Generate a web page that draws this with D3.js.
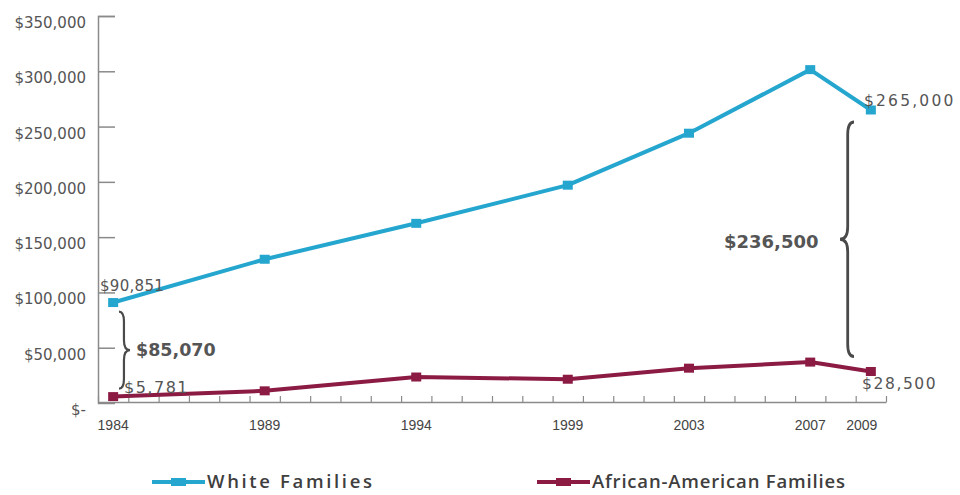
<!DOCTYPE html>
<html>
<head>
<meta charset="utf-8">
<script src="https://cdn.jsdelivr.net/npm/d3@7"></script>
<style>
  body { margin: 0; background: #fff; }
  svg { display: block; }
  .ylab { font-family: "DejaVu Sans", sans-serif; font-size: 15px; fill: #555; }
  .xlab { font-family: "Liberation Sans", sans-serif; font-size: 14px; fill: #444; }
  .note { font-family: "DejaVu Sans", sans-serif; fill: #555; }
  .legend { font-family: "Open Sans", sans-serif; font-size: 18.5px; font-weight: 600; fill: #3e3e3e; }
</style>
</head>
<body>
<div id="chart"></div>
<script>
const width = 960,
  height = 495;

// data
const years = [1984, 1989, 1994, 1999, 2003, 2007, 2009];
const white = [90851, 130000, 162500, 197000, 244000, 301500, 265000];
const black = [5781, 11000, 23500, 21500, 31500, 37000, 28500];
const yTicks = [0, 50000, 100000, 150000, 200000, 250000, 300000, 350000];
const seriesNames = ["White Families", "African-American Families"];
const gaps = [85070, 236500];

const blue = "#25a6cf",
  maroon = "#8c1b44",
  axisColor = "#8a8a8a",
  braceColor = "#4a4a4a";

const svg = d3.select("#chart")
  .append("svg")
  .attr("width", width)
  .attr("height", height);

// scales: year axis runs half a year either side of the data
const x = d3.scaleLinear()
  .domain([years[0] - 0.5, years[years.length - 1] + 0.5])
  .range([98, 886]);

const y = d3.scaleLinear()
  .domain([0, 350000])
  .range([403, 16]);

const money = d3.format("$,");

// y axis
const yAxis = svg.append("g")
  .attr("transform", `translate(${x.range()[0]},0)`)
  .call(d3.axisRight(y).tickValues(yTicks).tickSize(17).tickFormat(""));
yAxis.select(".domain").attr("stroke", axisColor).attr("stroke-width", 1.5);
yAxis.selectAll(".tick line").attr("stroke", axisColor).attr("stroke-width", 1.5);
yAxis.selectAll(".tick").filter(d => d === 0).remove();

svg.selectAll(".ylab")
  .data(yTicks)
  .enter()
  .append("text")
  .attr("class", "ylab")
  .attr("x", 86)
  .attr("y", d => y(d) + 12)
  .attr("text-anchor", "end")
  .text(d => d === 0 ? "$-" : money(d));

// x axis with yearly ticks between years
const halfYears = d3.range(years[0] - 0.5, years[years.length - 1] + 1, 1);
const xAxis = svg.append("g")
  .attr("transform", `translate(0,${y(0) - 1})`)
  .call(d3.axisTop(x).tickValues(halfYears).tickSize(6).tickSizeOuter(0).tickFormat(""));
xAxis.select(".domain").attr("stroke", axisColor).attr("stroke-width", 1.5);
xAxis.selectAll(".tick line").attr("stroke", axisColor).attr("stroke-width", 1.2);

svg.selectAll(".xlab")
  .data(years)
  .enter()
  .append("text")
  .attr("class", "xlab")
  .attr("x", (d, i) => x(d) - (i === years.length - 1 ? 9 : 0))
  .attr("y", 430)
  .attr("text-anchor", "middle")
  .text(d => d);

// lines
const line = d3.line()
  .x(d => x(d[0]))
  .y(d => y(d[1]));

function drawSeries(values, color) {
  const pts = years.map((yr, i) => [yr, values[i]]);
  svg.append("path")
    .datum(pts)
    .attr("fill", "none")
    .attr("stroke", color)
    .attr("stroke-width", 4)
    .attr("stroke-linejoin", "round")
    .attr("d", line);
  svg.selectAll(null)
    .data(pts)
    .enter()
    .append("rect")
    .attr("x", d => x(d[0]) - 5)
    .attr("y", d => y(d[1]) - 4.5)
    .attr("width", 10)
    .attr("height", 9)
    .attr("fill", color);
}
drawSeries(white, blue);
drawSeries(black, maroon);

// curly brace, tip at x + w
function brace(x0, y1, y2, w) {
  const ym = (y1 + y2) / 2,
    h = w * 0.45,
    k = Math.abs(w) * 0.9;
  return `M${x0},${y1} Q${x0 + h},${y1} ${x0 + h},${y1 + k}` +
    ` L${x0 + h},${ym - k}` +
    ` Q${x0 + h},${ym} ${x0 + w},${ym}` +
    ` Q${x0 + h},${ym} ${x0 + h},${ym + k}` +
    ` L${x0 + h},${y2 - k}` +
    ` Q${x0 + h},${y2} ${x0},${y2}`;
}

svg.append("path")
  .attr("d", brace(119, y(white[0]) + 9, y(black[0]) - 8, 11))
  .attr("fill", "none")
  .attr("stroke", braceColor)
  .attr("stroke-width", 2.2);

svg.append("path")
  .attr("d", brace(854, y(white[6]) + 12, y(black[6]) - 15, -14))
  .attr("fill", "none")
  .attr("stroke", braceColor)
  .attr("stroke-width", 2.8);

// value notes
svg.append("text").attr("class", "note")
  .attr("x", 100).attr("y", y(white[0]) - 12)
  .style("font-size", "15px").style("letter-spacing", "0.3px")
  .text(money(white[0]));

svg.append("text").attr("class", "note")
  .attr("x", 124).attr("y", y(black[0]) - 4)
  .style("font-size", "16px").style("letter-spacing", "1.5px")
  .text(money(black[0]));

svg.append("text").attr("class", "note")
  .attr("x", 136).attr("y", 356)
  .style("font-size", "17.5px").style("font-weight", "bold")
  .text(money(gaps[0]));

svg.append("text").attr("class", "note")
  .attr("x", 724).attr("y", 248)
  .style("font-size", "18px").style("font-weight", "bold")
  .text(money(gaps[1]));

svg.append("text").attr("class", "note")
  .attr("x", 864).attr("y", y(white[6]) - 4)
  .style("font-size", "15.5px").style("letter-spacing", "2.2px")
  .text(money(white[6]));

svg.append("text").attr("class", "note")
  .attr("x", 862).attr("y", y(black[6]) + 18)
  .style("font-size", "15.5px").style("letter-spacing", "1.6px")
  .text(money(black[6]));

// legend
const legendX = [152, 537];
const legendColors = [blue, maroon];
const legendLen = [165, 253];
const legend = svg.selectAll(".lg")
  .data(seriesNames)
  .enter()
  .append("g")
  .attr("transform", (d, i) => `translate(${legendX[i]},482)`);
legend.append("line")
  .attr("x1", 0).attr("x2", 53)
  .attr("stroke", (d, i) => legendColors[i])
  .attr("stroke-width", 4);
legend.append("rect")
  .attr("x", 19).attr("y", -4)
  .attr("width", 15).attr("height", 8)
  .attr("fill", (d, i) => legendColors[i]);
legend.append("text")
  .attr("class", "legend")
  .attr("x", 55)
  .attr("y", 6)
  .attr("textLength", (d, i) => legendLen[i])
  .attr("lengthAdjust", "spacing")
  .text(d => d);
</script>
</body>
</html>
